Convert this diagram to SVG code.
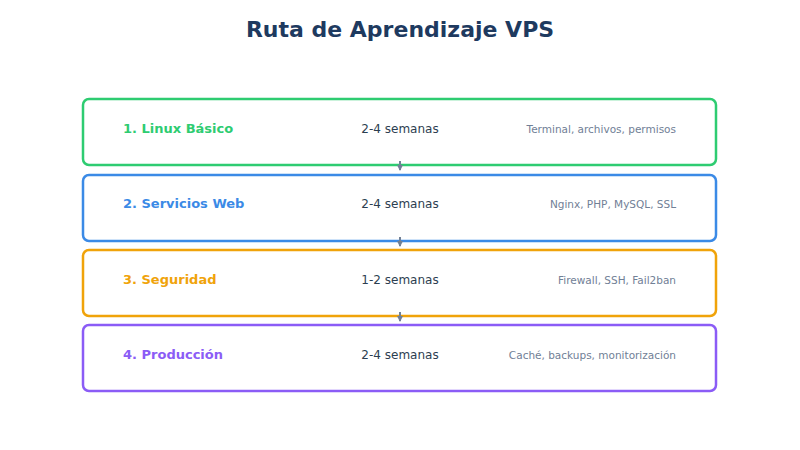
<svg xmlns="http://www.w3.org/2000/svg" width="800" height="450" viewBox="0 0 800 450">
<style>
text{font-family:"DejaVu Sans",sans-serif}
.box{fill:#fff;stroke-width:2.5}
.t{font-size:13px;font-weight:bold}
.d{font-size:12px;fill:#2c3e50;text-anchor:middle}
.s{font-size:10.5px;fill:#718096;text-anchor:end}
.c{stroke:#718096;stroke-width:2;fill:none}
</style>
<defs><marker id="a" markerWidth="6" markerHeight="6" refX="5" refY="3" orient="auto" markerUnits="userSpaceOnUse"><path d="M0,0L6,3L0,6z" fill="#718096"/></marker></defs>
<rect width="800" height="450" fill="#fff"/>
<text x="400" y="37" font-size="22" font-weight="bold" fill="#1e3a5f" text-anchor="middle">Ruta de Aprendizaje VPS</text>
<g id="n1"><rect class="box" x="83" y="99" width="633" height="66" rx="6" stroke="#2ecc71" stroke-width="2.5" fill="#fff"/><text class="t" x="123" y="133" fill="#2ecc71">1. Linux Básico</text><text class="d" x="400" y="133">2-4 semanas</text><text class="s" x="676" y="133">Terminal, archivos, permisos</text></g>
<g id="n2"><rect class="box" x="83" y="175" width="633" height="66" rx="6" stroke="#3b8ae6" fill="#fff"/><text class="t" x="123" y="208" fill="#3b8ae6">2. Servicios Web</text><text class="d" x="400" y="208">2-4 semanas</text><text class="s" x="676" y="208">Nginx, PHP, MySQL, SSL</text></g>
<g id="n3"><rect class="box" x="83" y="250" width="633" height="66" rx="6" stroke="#f0a30a" fill="#fff"/><text class="t" x="123" y="284" fill="#f0a30a">3. Seguridad</text><text class="d" x="400" y="284">1-2 semanas</text><text class="s" x="676" y="284">Firewall, SSH, Fail2ban</text></g>
<g id="n4"><rect class="box" x="83" y="325" width="633" height="66" rx="6" stroke="#8b5cf6" fill="#fff"/><text class="t" x="123" y="359" fill="#8b5cf6">4. Producción</text><text class="d" x="400" y="359">2-4 semanas</text><text class="s" x="676" y="359">Caché, backups, monitorización</text></g>
<g id="connectors">
<line class="c" x1="400" y1="161" x2="400" y2="170" marker-end="url(#a)"/>
<line class="c" x1="400" y1="237" x2="400" y2="246" marker-end="url(#a)"/>
<line class="c" x1="400" y1="312" x2="400" y2="321" marker-end="url(#a)"/>
</g>
</svg>
